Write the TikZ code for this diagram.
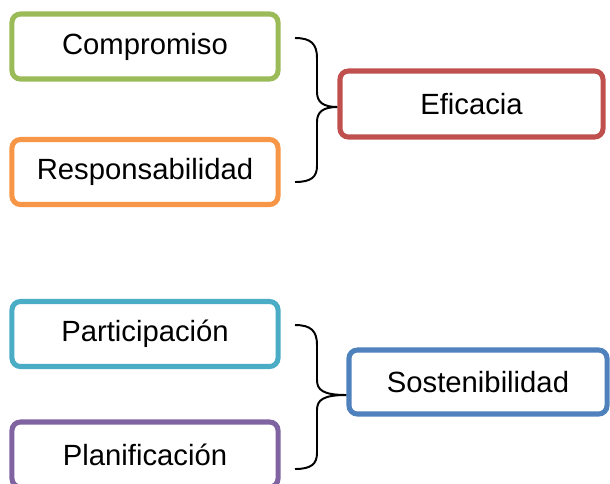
\documentclass[tikz,border=0pt]{standalone}
\usepackage{fontspec}
\setmainfont{Liberation Sans}
\usepackage{tikz}
\usetikzlibrary{positioning}
\usepackage{xcolor}

\definecolor{boxgreen}{HTML}{9BBB59}
\definecolor{boxorange}{HTML}{F79646}
\definecolor{boxred}{HTML}{C0504D}
\definecolor{boxteal}{HTML}{4BACC6}
\definecolor{boxpurple}{HTML}{8064A2}
\definecolor{boxblue}{HTML}{4F81BD}

\begin{document}
\begin{tikzpicture}[x=0.025cm, y=-0.025cm,
    box/.style={draw=#1, line width=3.6pt, rounded corners=6pt, fill=white,
        minimum width=6.65cm, minimum height=1.625cm, inner sep=0pt,
        font=\fontsize{20.8}{25}\selectfont},
    curly/.style={draw=black, line width=1.4pt}]
    \clip (0,0) rectangle (610,483);

    % left column
    \node[box=boxgreen] (comp) at (145,46.5) {Compromiso};
    \node[box=boxorange] (resp) at (145,172) {Responsabilidad};
    \node[box=boxteal] (part) at (145,334) {Participación};
    \node[box=boxpurple] (plan) at (145,454.5) {Planificación};

    % right column
    \node[box=boxred, minimum width=6.575cm, minimum height=1.65cm] (efic) at (471.5,104) {Eficacia};
    \node[box=boxblue, minimum width=6.45cm, minimum height=1.6cm] (sost) at (478,382) {Sostenibilidad};

    % braces
    \coordinate (top1) at (295,38);
    \coordinate (bot1) at (295,182);
    \coordinate (top2) at (295,325);
    \coordinate (bot2) at (295,469);

    \draw[curly] (top1) .. controls (311,38) and (317,44) .. (317,58) -- (317,92)
        .. controls (317,102) and (323,107) .. (efic.west |- 0,107)
        .. controls (323,107) and (317,112) .. (317,122) -- (317,166)
        .. controls (317,177) and (311,182) .. (bot1);
    \draw[curly] (top2) .. controls (311,325) and (317,331) .. (317,345) -- (317,380)
        .. controls (317,390) and (323,395) .. (sost.west |- 0,395)
        .. controls (323,395) and (317,400) .. (317,410) -- (317,453)
        .. controls (317,464) and (311,469) .. (bot2);
\end{tikzpicture}
\end{document}
